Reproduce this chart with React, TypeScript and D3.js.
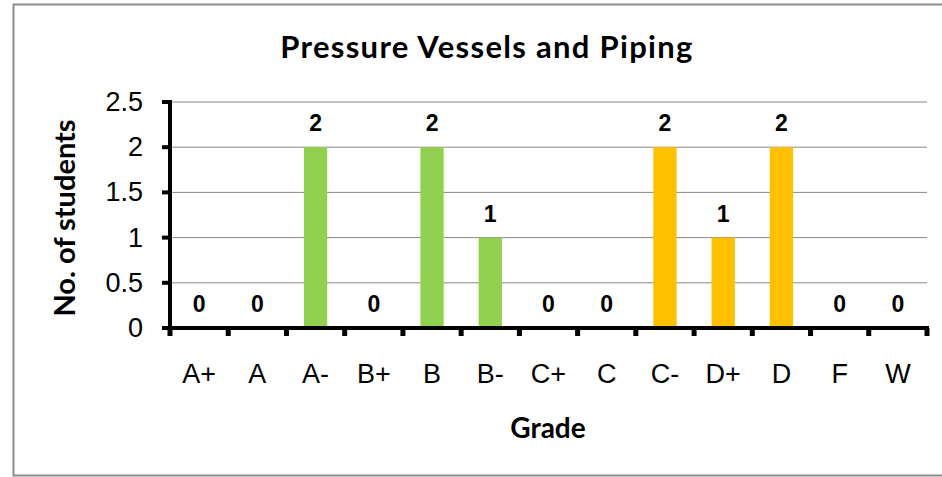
import * as d3 from "d3";

const grades = ["A+", "A", "A-", "B+", "B", "B-", "C+", "C", "C-", "D+", "D", "F", "W"];
const students = [0, 0, 2, 0, 2, 1, 0, 0, 2, 1, 2, 0, 0];
const barColors = ["#92D050", "#92D050", "#92D050", "#92D050", "#92D050", "#92D050", "#FFC000", "#FFC000", "#FFC000", "#FFC000", "#FFC000", "#FFC000", "#FFC000"];
const yTicks = [0, 0.5, 1, 1.5, 2, 2.5];

export default function App() {
  const W = 942;
  const H = 477;
  const left = 170;
  const right = 927;
  const top = 102;
  const bottom = 328;

  const x = d3.scaleBand<string>().domain(grades).range([left, right]).paddingInner(0).paddingOuter(0);
  const y = d3.scaleLinear().domain([0, 2.5]).range([bottom, top]);
  const bw = x.bandwidth() * 0.4;
  const fmt = (v: number) => String(v);

  return (
    <svg width={W} height={H} style={{ position: "absolute", left: 0, top: 0 }}>
      <rect x={0} y={0} width={W} height={H} fill="#fff" />
      <rect x={13.5} y={4.5} width={940} height={471} fill="none" stroke="#8c8c8c" strokeWidth={2} />
      <text x={487} y={58} textAnchor="middle" fontFamily="Lato" fontWeight="bold" fontSize={31} letterSpacing={1.3} fill="#000">
        Pressure Vessels and Piping
      </text>

      {yTicks.filter((t) => t > 0).map((t) => (
        <line key={"g" + t} x1={left} x2={right} y1={y(t)} y2={y(t)} stroke="#888" strokeWidth={1} />
      ))}

      {grades.map((g, i) => (
        <rect
          key={"b" + g}
          x={(x(g) || 0) + (x.bandwidth() - bw) / 2}
          y={y(students[i])}
          width={bw}
          height={bottom - y(students[i])}
          fill={barColors[i]}
        />
      ))}

      {grades.map((g, i) => (
        <text
          key={"l" + g}
          x={(x(g) || 0) + x.bandwidth() / 2}
          y={y(students[i]) - 16}
          textAnchor="middle"
          fontFamily="Liberation Sans, Arial"
          fontWeight="bold"
          fontSize={23}
          fill="#000"
        >
          {fmt(students[i])}
        </text>
      ))}

      {/* axes */}
      <line x1={left} x2={left} y1={top - 2} y2={bottom + 2} stroke="#000" strokeWidth={4} />
      <line x1={left - 8} x2={right + 2} y1={bottom} y2={bottom} stroke="#000" strokeWidth={4} />
      {yTicks.map((t) => (
        <line key={"yt" + t} x1={left - 8} x2={left} y1={y(t)} y2={y(t)} stroke="#000" strokeWidth={4} />
      ))}
      {[...grades.map((g) => x(g) || 0), right].map((px, i) => (
        <line key={"xt" + i} x1={px} x2={px} y1={bottom} y2={bottom + 8} stroke="#000" strokeWidth={5} />
      ))}

      {yTicks.map((t) => (
        <text key={"yl" + t} x={left - 27} y={y(t) + 9} textAnchor="end" fontFamily="Liberation Sans, Arial" fontSize={27} fill="#000">
          {fmt(t)}
        </text>
      ))}
      {grades.map((g) => (
        <text key={"xl" + g} x={(x(g) || 0) + x.bandwidth() / 2} y={383} textAnchor="middle" fontFamily="Liberation Sans, Arial" fontSize={27} fill="#000">
          {g}
        </text>
      ))}

      <text x={548} y={438} textAnchor="middle" fontFamily="Lato" fontWeight="bold" fontSize={28} fill="#000">
        Grade
      </text>
      <text
        transform={`translate(75,218) rotate(-90)`}
        textAnchor="middle"
        fontFamily="Lato"
        fontWeight="bold"
        fontSize={29}
        fill="#000"
      >
        No. of students
      </text>
    </svg>
  );
}
